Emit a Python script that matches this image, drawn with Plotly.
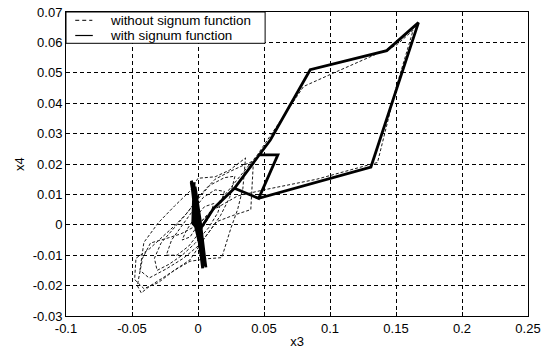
import plotly.graph_objects as go

# Trajectory without signum function (dashed)
x3_without = [0.000, 0.012, 0.030, 0.050, 0.090, 0.136, 0.150, 0.163, 0.150, 0.133,
              0.103, 0.080, 0.062, 0.045, 0.030, 0.015, 0.000, -0.013, -0.024, -0.036,
              -0.042, -0.046, -0.043, -0.036, -0.025, -0.015, -0.006, 0.004, 0.014, 0.026,
              0.040, 0.041, 0.042, 0.034, 0.024, 0.013, 0.002, -0.008, -0.017, -0.027,
              -0.037, -0.047, -0.048, -0.041, -0.030, -0.018, -0.006, 0.006, 0.018, 0.025,
              0.030, 0.034, 0.036, 0.024, 0.013, 0.000, -0.0063, -0.0175, -0.030, -0.041,
              -0.044, -0.037, -0.024, -0.011, 0.000, 0.009, 0.017, 0.024, 0.028, 0.020,
              0.009, -0.001, -0.010, -0.020, -0.028, -0.033, -0.031, -0.022, -0.012, -0.002,
              0.008, 0.015, 0.020, 0.013, 0.004, -0.005, -0.013, -0.020, -0.024, -0.016,
              -0.007, 0.002, 0.009, 0.012, 0.005, -0.003, -0.009, -0.012, -0.006, 0.000]
x4_without = [0.0000, 0.0050, 0.0095, 0.0115, 0.0150, 0.0205, 0.0450, 0.0640, 0.0590, 0.0558,
              0.0500, 0.0455, 0.0340, 0.0230, 0.0150, 0.0070, 0.0000, -0.0030, -0.0045, -0.0060,
              -0.0110, -0.0200, -0.0224, -0.0200, -0.0170, -0.0140, -0.0115, -0.0050, 0.0010, 0.0030,
              0.0050, 0.0130, 0.0210, 0.0195, 0.0175, 0.0150, 0.0100, 0.0040, 0.0000, -0.0040,
              -0.0080, -0.0110, -0.0180, -0.0210, -0.0190, -0.0150, -0.0120, -0.0112, -0.0108, -0.0010,
              0.0050, 0.0120, 0.0220, 0.0180, 0.0158, 0.0153, 0.0110, 0.0063, 0.0007, -0.0058,
              -0.0150, -0.0175, -0.0145, -0.0110, -0.0070, -0.0020, 0.0030, 0.0090, 0.0160, 0.0155,
              0.0130, 0.0080, 0.0030, -0.0020, -0.0060, -0.0110, -0.0150, -0.0130, -0.0100, -0.0060,
              -0.0010, 0.0040, 0.0110, 0.0115, 0.0090, 0.0040, -0.0010, -0.0050, -0.0100, -0.0100,
              -0.0070, -0.0020, 0.0030, 0.0070, 0.0060, 0.0020, -0.0020, -0.0050, -0.0040, 0.0000]

# Trajectory with signum function (solid)
x3_with = [0.0454, 0.0605, 0.0460, 0.0276, 0.0460, 0.1310, 0.1670, 0.1430, 0.0850, 0.0548, 0.0454,
           0.0276, 0.0118, 0.0013,
           -0.0052, -0.0010, 0.0030, 0.0060, 0.0035, -0.0020, -0.0050, -0.0020, 0.0015, 0.0040,
           0.0035, 0.0005, -0.0030, -0.0022, 0.0015, 0.0040, 0.0055, 0.0020, -0.0030, -0.0030,
           -0.0035, -0.0040, -0.0010, -0.0035, 0.0010, 0.0000]
x4_with = [0.0230, 0.0230, 0.0087, 0.0120, 0.0087, 0.0190, 0.0665, 0.0573, 0.0510, 0.0279, 0.0225,
           0.0120, 0.0054, -0.0017,
           0.0140, 0.0050, -0.0060, -0.0140, -0.0060, 0.0030, 0.0145, 0.0100, -0.0010, -0.0100,
           -0.0143, -0.0040, 0.0060, 0.0125, 0.0020, -0.0080, -0.0125, -0.0020, 0.0080, 0.0140,
           0.0020, 0.0005, -0.0010, 0.0025, -0.0060, 0.0000]

x_ticks = [-0.1, -0.05, 0, 0.05, 0.1, 0.15, 0.2, 0.25]
x_ticklabels = ["-0.1", "-0.05", "0", "0.05", "0.1", "0.15", "0.2", "0.25"]
y_ticks = [-0.03, -0.02, -0.01, 0, 0.01, 0.02, 0.03, 0.04, 0.05, 0.06, 0.07]
y_ticklabels = ["-0.03", "-0.02", "-0.01", "0", "0.01", "0.02", "0.03", "0.04", "0.05", "0.06", "0.07"]
legend_labels = ["without signum function", "with signum function"]

FONT = "Liberation Sans, Arial, Helvetica, sans-serif"
dashed_style = dict(color="#1a1a1a", width=1, dash="3px,2px")
solid_style = dict(color="black", width=2.8)

fig = go.Figure()
fig.add_trace(go.Scatter(x=x3_without, y=x4_without, mode="lines",
                         name=legend_labels[0], line=dashed_style, showlegend=False))
fig.add_trace(go.Scatter(x=x3_with, y=x4_with, mode="lines",
                         name=legend_labels[1], line=solid_style, showlegend=False))

axis_common = dict(showline=True, linecolor="black", linewidth=1, mirror=True,
                   showgrid=True, gridcolor="black", gridwidth=1, griddash="4px,3px",
                   zeroline=False, ticks="inside", ticklen=4, tickcolor="black",
                   automargin=False,
                   tickfont=dict(family=FONT, size=13, color="black"))

fig.update_xaxes(range=[-0.1, 0.25], tickvals=x_ticks, ticktext=x_ticklabels,
                 title=dict(text="x3", standoff=3, font=dict(family=FONT, size=13, color="black")),
                 **axis_common)
fig.update_yaxes(range=[-0.03, 0.07], tickvals=y_ticks, ticktext=y_ticklabels,
                 title=dict(text="x4", standoff=5, font=dict(family=FONT, size=13, color="black")),
                 **axis_common)

# Legend box drawn in the top-left corner of the axes (MATLAB style)
row_y = [0.9727, 0.9227]
shapes = [
    dict(type="rect", xref="paper", yref="paper", x0=0.0, x1=0.431, y0=0.897, y1=1.0,
         line=dict(color="black", width=1), fillcolor="white", layer="above"),
    dict(type="line", xref="paper", yref="paper", x0=0.020, x1=0.057, y0=row_y[0], y1=row_y[0],
         line=dict(color="black", width=1, dash="4px,3px"), layer="above"),
    dict(type="line", xref="paper", yref="paper", x0=0.020, x1=0.058, y0=row_y[1], y1=row_y[1],
         line=dict(color="black", width=1.2), layer="above"),
]
annotations = [
    dict(xref="paper", yref="paper", x=0.093, y=row_y[i], text=legend_labels[i], showarrow=False,
         xanchor="left", yanchor="middle", borderpad=0,
         font=dict(family=FONT, size=13.4, color="black"))
    for i in range(2)
]

fig.update_layout(
    width=548, height=349,
    margin=dict(l=66, r=20, t=12, b=33),
    paper_bgcolor="white", plot_bgcolor="white",
    showlegend=False,
    shapes=shapes, annotations=annotations,
    font=dict(family=FONT, size=13, color="black"),
)

fig.write_html("out.html", config={"displayModeBar": False},
               post_script="document.body.style.margin='0';")
